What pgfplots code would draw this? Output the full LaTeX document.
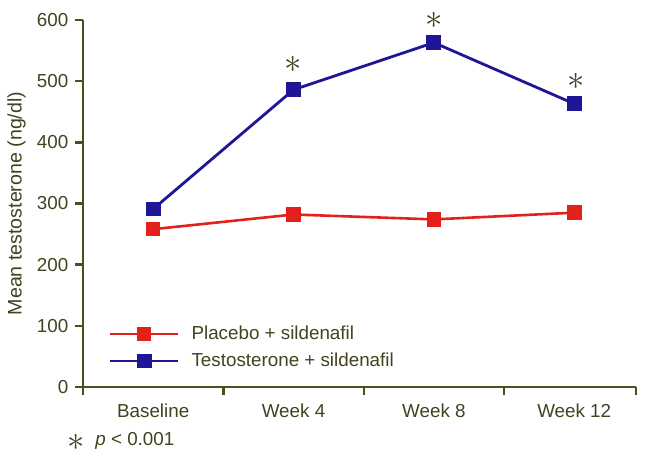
\documentclass[border=0pt]{standalone}
\usepackage{pgfplots}
\pgfplotsset{compat=1.18}
\usepackage{fontspec}
\setmainfont{Liberation Sans}
\definecolor{axiscol}{RGB}{78,78,28}
\definecolor{txtcol}{RGB}{66,66,30}
\definecolor{tblue}{RGB}{30,22,150}
\definecolor{pred}{RGB}{226,34,26}

\begin{document}
\begin{tikzpicture}
\begin{axis}[
    scale only axis,
    width=276.5pt, height=183.5pt,
    xmin=-0.5, xmax=3.44,
    ymin=0, ymax=600,
    axis lines*=left,
    axis line style={axiscol, line width=1.2pt},
    tick align=outside,
    major tick length=3.8pt,
    tick style={axiscol, line width=1.2pt},
    xtick={-0.5,0.5,1.5,2.5,3.44},
    xticklabels={},
    extra x ticks={0,1,2,3},
    extra x tick labels={Baseline,Week 4,Week 8,Week 12},
    extra x tick style={tick style={draw=none}},
    ytick={0,100,...,600},
    /pgf/number format/assume math mode=true,
    tick label style={font=\fontsize{9.4}{11}\selectfont, text=txtcol},
    xticklabel style={yshift=-1pt},
    ylabel={Mean testosterone (ng/dl)},
    ylabel style={font=\fontsize{9.8}{11}\selectfont, text=txtcol, at={(axis description cs:-0.12,0.5)}, anchor=center},
    clip=false,
    legend style={draw=none, fill=none, at={(axis description cs:0.035,0.19)}, anchor=north west,
        font=\fontsize{9.4}{11}\selectfont, text=txtcol, row sep=1.2pt, cells={anchor=west}},
    legend image code/.code={\draw[mark repeat=2,mark phase=2] plot coordinates {(0pt,0pt) (17pt,0pt) (34pt,0pt)};
        \path (38pt,0pt);},
]
\addplot[color=pred, line width=1.3pt, mark=square*, mark size=3pt]
    coordinates {(0,258)(1,282)(2,274)(3,285)};
\addlegendentry{Placebo + sildenafil}
\addplot[color=tblue, line width=1.4pt, mark=square*, mark size=3pt]
    coordinates {(0,291)(1,486)(2,563)(3,463)};
\addlegendentry{Testosterone + sildenafil}
\node[text=txtcol, inner sep=0pt, font=\fontsize{16}{16}\selectfont] at (axis cs:1,527) {$\ast$};
\node[text=txtcol, inner sep=0pt, font=\fontsize{16}{16}\selectfont] at (axis cs:2,600) {$\ast$};
\node[text=txtcol, inner sep=0pt, font=\fontsize{16}{16}\selectfont] at (axis cs:3.01,500) {$\ast$};
\end{axis}
\node[text=txtcol, inner sep=0pt, font=\fontsize{16}{16}\selectfont] at (-3.5pt,-27.5pt) {$\ast$};
\node[text=txtcol, font=\fontsize{9.4}{11}\selectfont, anchor=west, inner sep=0pt] at (6pt,-27pt) {\textit{p} < 0.001};
\useasboundingbox (-41.5pt,-37pt) rectangle (288.5pt,193.5pt);
\end{tikzpicture}
\end{document}
